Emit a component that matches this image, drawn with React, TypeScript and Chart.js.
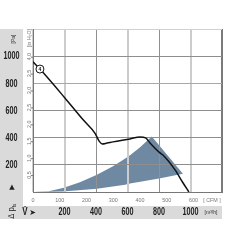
import { useEffect, useRef } from 'react';
import { Chart, registerables } from 'chart.js';

Chart.register(...registerables);

// Fan curve (m³/h vs Pa)
const fanFlow = [0, 44, 200, 317, 394, 420, 440, 470, 508, 616, 679, 715, 743, 806, 825, 902, 952, 990];
const fanPressure = [958, 905, 696, 533, 432, 375, 354, 360, 369, 391, 405, 398, 361, 288, 273, 163, 68, 0];

// Operating area: upper edge, then lower edge back to origin
const areaUpperFlow = [0, 100, 190, 298, 406, 508, 571, 616, 680, 754];
const areaUpperPressure = [0, 6, 30, 72, 127, 190, 235, 270, 330, 408];
const areaLowerFlow = [952, 800, 616, 584, 406, 190, 0];
const areaLowerPressure = [134, 100, 62, 53, 24, 3, 0];

// Tick labels
const paTicks = [200, 400, 600, 800, 1000];
const inH2OTicks = ['0.5', '1.0', '1.5', '2.0', '2.5', '3.0', '3.5', '4.0'];
const cfmTicks = [0, 100, 200, 300, 400, 500, 600];
const m3hTicks = [200, 400, 600, 800, 1000];

const PA_PER_INH2O = 249.09;
const M3H_PER_CFM = 1.699;
const FONT = '"Liberation Sans", Arial, sans-serif';
const BAND = '#dadada';
const AREA = '#6f89a3';

function txt(ctx: CanvasRenderingContext2D, s: string, x: number, y: number, font: string, color: string, align: CanvasTextAlign = 'center', rot = 0, sx = 0.8) {
  ctx.save();
  ctx.translate(x, y);
  if (rot) ctx.rotate(rot);
  ctx.scale(sx, 1);
  ctx.font = font;
  ctx.fillStyle = color;
  ctx.textAlign = align;
  ctx.textBaseline = 'middle';
  ctx.fillText(s, 0, 0);
  ctx.restore();
}

const deco = {
  id: 'deco',
  afterDraw(chart: any) {
    const { ctx, chartArea: a, scales } = chart;
    const xs = scales.x;
    const ys = scales.y;
    ctx.save();
    // gray bands
    ctx.fillStyle = BAND;
    ctx.fillRect(0, a.top, a.left - 10, a.bottom + 27 - a.top);
    ctx.fillRect(0, a.bottom + 14, a.right, 13);

    // Pa labels
    for (const v of paTicks) {
      txt(ctx, String(v), 11.5, ys.getPixelForValue(v) + 0.5, `bold 10px ${FONT}`, '#222', 'center', 0, 0.72);
    }
    txt(ctx, '[Pa]', 13, a.top + 10, `6px ${FONT}`, '#333', 'center', -Math.PI / 2, 0.85);
    txt(ctx, '▲', 12, a.bottom - 5, `7px "DejaVu Sans", sans-serif`, '#222', 'center', 0, 1);
    // Δ p_fs rotated
    ctx.save();
    ctx.translate(12, a.bottom + 19);
    ctx.rotate(-Math.PI / 2);
    ctx.scale(0.85, 1);
    ctx.fillStyle = '#222';
    ctx.textBaseline = 'middle';
    ctx.textAlign = 'left';
    ctx.font = `9px ${FONT}`;
    ctx.fillText('Δ p', -9, 0);
    const w = ctx.measureText('Δ p').width;
    ctx.font = `5px ${FONT}`;
    ctx.fillText('fs', -9 + w, 2.5);
    ctx.restore();

    // inH2O labels
    ctx.strokeStyle = '#777';
    ctx.lineWidth = 1;
    inH2OTicks.forEach((s) => {
      const y = ys.getPixelForValue(parseFloat(s) * PA_PER_INH2O);
      txt(ctx, s, 29, y, `6px ${FONT}`, '#777', 'center', -Math.PI / 2, 0.9);
      ctx.beginPath();
      ctx.moveTo(a.left - 2, y + 0.5);
      ctx.lineTo(a.left, y + 0.5);
      ctx.stroke();
    });
    txt(ctx, '[in H₂O]', 29, a.top + 9, `6px ${FONT}`, '#777', 'center', -Math.PI / 2, 0.85);

    // CFM labels
    for (const v of cfmTicks) {
      txt(ctx, String(v), xs.getPixelForValue(v * M3H_PER_CFM), a.bottom + 8, `6px ${FONT}`, '#777', 'center', 0, 0.9);
    }
    txt(ctx, '[ CFM ]', a.right - 10, a.bottom + 8, `6px ${FONT}`, '#777', 'center', 0, 0.9);

    // m³/h labels
    for (const v of m3hTicks) {
      txt(ctx, String(v), xs.getPixelForValue(v), a.bottom + 20.5, `bold 10px ${FONT}`, '#222', 'center', 0, 0.72);
    }
    txt(ctx, '[m³/h]', a.right - 11, a.bottom + 20.5, `6px ${FONT}`, '#333', 'center', 0, 0.85);
    txt(ctx, 'V̇', 25, a.bottom + 20.5, `bold 10px ${FONT}`, '#222', 'center', 0, 0.8);
    txt(ctx, '➤', 32.5, a.bottom + 20.5, `8px "DejaVu Sans", sans-serif`, '#222', 'center', 0, 1);

    // curve number marker
    const mx = xs.getPixelForValue(fanFlow[1]);
    const my = ys.getPixelForValue(fanPressure[1]);
    txt(ctx, '4', mx, my + 0.5, `bold 5px ${FONT}`, '#111', 'center', 0, 1);
    ctx.restore();
  },
};

const vGrid = (v: number) => {
  if (v === 1200) return { c: '#7a7a7a', w: 2 };
  if (v === 400 || v === 800) return { c: '#909090', w: 1 };
  return { c: '#cccccc', w: 2 };
};
const hGrid = (v: number) => {
  if (v === 1200) return { c: '#d0d0d0', w: 1 };
  if (v === 800) return { c: '#a8a8a8', w: 1 };
  return { c: '#8e8e8e', w: 1 };
};

export default function App() {
  const ref = useRef<HTMLCanvasElement>(null);
  useEffect(() => {
    if (!ref.current) return;
    const areaData = [
      ...areaUpperFlow.map((x, i) => ({ x, y: areaUpperPressure[i] })),
      ...areaLowerFlow.map((x, i) => ({ x, y: areaLowerPressure[i] })),
    ];
    const fanData = fanFlow.map((x, i) => ({ x, y: fanPressure[i] }));
    const chart = new Chart(ref.current, {
      type: 'line',
      data: {
        datasets: [
          {
            data: fanData,
            borderColor: '#111',
            borderWidth: 1.5,
            cubicInterpolationMode: 'monotone',
            fill: false,
            pointRadius: fanData.map((_, i) => (i === 1 ? 4 : 0)),
            pointBackgroundColor: '#fff',
            pointBorderColor: '#111',
            pointBorderWidth: 1,
          },
          {
            data: areaData,
            borderWidth: 0,
            borderColor: AREA,
            backgroundColor: AREA,
            fill: 'shape',
            pointRadius: 0,
            tension: 0,
          },
        ],
      },
      options: {
        animation: false,
        responsive: false,
        events: [],
        layout: { padding: { left: 33, top: 29, right: 28, bottom: 58 } },
        plugins: {
          legend: { display: false },
          tooltip: { enabled: false },
          filler: { drawTime: 'beforeDraw' },
        } as any,
        scales: {
          x: {
            type: 'linear',
            min: 0,
            max: 1200,
            ticks: { display: false, stepSize: 200 },
            grid: {
              drawTicks: false,
              color: (c: any) => vGrid(c.tick.value).c,
              lineWidth: (c: any) => vGrid(c.tick.value).w,
            },
            border: { display: true, color: '#777', width: 1 },
          },
          y: {
            type: 'linear',
            min: 0,
            max: 1200,
            ticks: { display: false, stepSize: 200 },
            grid: {
              drawTicks: false,
              color: (c: any) => hGrid(c.tick.value).c,
              lineWidth: (c: any) => hGrid(c.tick.value).w,
            },
            border: { display: true, color: '#777', width: 1 },
          },
        },
      },
      plugins: [deco],
    });
    return () => chart.destroy();
  }, []);
  return (
    <div style={{ position: 'fixed', left: 0, top: 0, width: 250, height: 250, background: '#fff' }}>
      <canvas ref={ref} width={250} height={250} style={{ display: 'block' }} />
    </div>
  );
}
